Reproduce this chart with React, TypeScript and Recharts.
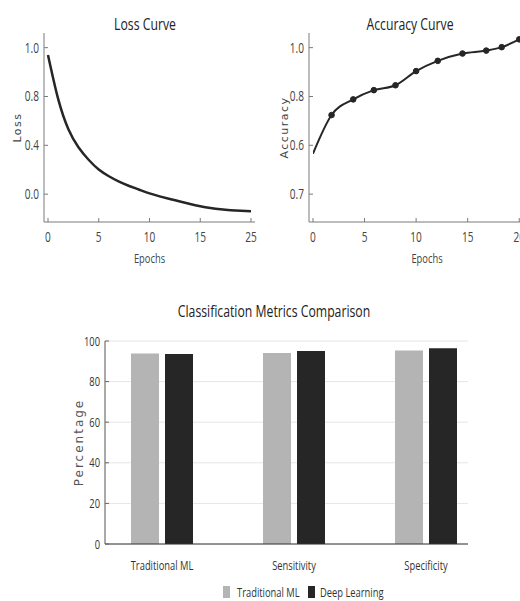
import React from "react";
import {
  LineChart,
  Line,
  BarChart,
  Bar,
  XAxis,
  YAxis,
  CartesianGrid,
  Label,
} from "recharts";

// loss curve (x = tick position; the last tick is labelled "25")
const lossEpochs = [0, 1, 2, 3, 4, 5, 6, 7, 8, 9, 10, 11, 12, 13, 14, 15, 16, 17, 18, 19, 20];
const lossValues = [
  0.95, 0.65, 0.445, 0.32, 0.235, 0.168, 0.122, 0.085, 0.056, 0.03, 0.005, -0.015, -0.033, -0.05,
  -0.067, -0.082, -0.094, -0.103, -0.109, -0.113, -0.116,
];
const lossXTicks = [0, 5, 10, 15, 20];
const lossXLabels = ["0", "5", "10", "15", "25"];
const lossYTicks = [0, 1 / 3, 2 / 3, 1];
const lossYLabels = ["0.0", "0.4", "0.8", "1.0"];

// accuracy curve
const accEpochs = [0, 1.8, 3.9, 5.9, 8, 10, 12.1, 14.5, 16.8, 18.3, 20];
const accValues = [0.783, 0.862, 0.894, 0.913, 0.923, 0.952, 0.973, 0.988, 0.994, 1.001, 1.017];
const accXTicks = [0, 5, 10, 15, 20];
const accXLabels = ["0", "5", "10", "15", "20"];
const accYTicks = [0.7, 0.8, 0.9, 1.0];
const accYLabels = ["0.7", "0.6", "0.8", "1.0"];

// classification metrics
const metricNames = ["Traditional ML", "Sensitivity", "Specificity"];
const traditionalMl = [93.8, 94.1, 95.3];
const deepLearning = [93.6, 95.1, 96.4];
const pctTicks = [0, 20, 40, 60, 80, 100];

const COND = "'Open Sans', 'Noto Sans', sans-serif";
const WIDE = "'DejaVu Sans', Verdana, sans-serif";
const SQUEEZE = 0.72;
const LIGHT = "#b4b4b4";
const DARK = "#262626";
const AXIS = "#7a7a7a";

const lossData = lossEpochs.map((e, i) => ({ epoch: e, loss: lossValues[i] }));
const accData = accEpochs.map((e, i) => ({ epoch: e, acc: accValues[i] }));
const barData = metricNames.map((m, i) => ({ name: m, ml: traditionalMl[i], dl: deepLearning[i] }));

function labelFor(ticks: number[], labels: string[], v: number) {
  const i = ticks.findIndex((t) => Math.abs(t - v) < 1e-6);
  return i >= 0 ? labels[i] : String(v);
}

// narrow text: the reference uses a condensed face, so squeeze horizontally
function NarrowText({ x, y, anchor, size, fill, dy, children }: any) {
  return (
    <text
      transform={`translate(${x},${y}) scale(${SQUEEZE},1)`}
      x={0}
      y={0}
      dy={dy}
      textAnchor={anchor}
      fill={fill}
      fontSize={size}
      fontFamily={COND}
    >
      {children}
    </text>
  );
}

// y tick: label left of axis, small mark pointing into the plot
function InYTick(props: any) {
  const { x, y, payload, ticks, labels, size = 14, color = "#444", mark = AXIS } = props;
  const ax = x + 5;
  const text = ticks ? labelFor(ticks, labels, payload.value) : payload.value;
  return (
    <g>
      <line x1={ax} y1={y} x2={ax + 4} y2={y} stroke={mark} strokeWidth={1} />
      <NarrowText x={x} y={y} dy="0.35em" anchor="end" size={size} fill={color}>
        {text}
      </NarrowText>
    </g>
  );
}

function InXTick(props: any) {
  const { x, y, payload, ticks, labels } = props;
  const ay = y - 10;
  return (
    <g>
      <line x1={x} y1={ay} x2={x} y2={ay - 4} stroke={AXIS} strokeWidth={1} />
      <NarrowText x={x} y={y} dy="0.71em" anchor="middle" size={14} fill="#444">
        {labelFor(ticks, labels, payload.value)}
      </NarrowText>
    </g>
  );
}

function BarXTick(props: any) {
  const { x, y, payload } = props;
  return (
    <NarrowText x={x} y={y} dy="0.71em" anchor="middle" size={13} fill="#333">
      {payload.value}
    </NarrowText>
  );
}

function AxisTitle(props: any) {
  const { viewBox, value, dy } = props;
  if (!viewBox) return null;
  const cx = viewBox.x + viewBox.width / 2;
  const cy = viewBox.y + viewBox.height / 2;
  return (
    <NarrowText x={cx} y={cy} dy={dy} anchor="middle" size={13} fill="#444">
      {value}
    </NarrowText>
  );
}

function AccDot(props: any) {
  const { cx, cy, index } = props;
  if (index === 0 || cx == null) return null;
  return <circle cx={cx} cy={cy} r={2.8} fill={DARK} stroke={DARK} />;
}

const titleStyle: React.CSSProperties = {
  position: "absolute",
  fontFamily: COND,
  color: "#222",
  whiteSpace: "nowrap",
  transform: `translate(-50%, -50%) scaleX(${SQUEEZE})`,
  lineHeight: 1,
};

const yTitle = { fill: "#444", fontSize: 11, fontFamily: WIDE };

export default function App() {
  return (
    <div
      style={{
        position: "absolute",
        left: 0,
        top: 0,
        width: 520,
        height: 601,
        overflow: "hidden",
        background: "#fff",
      }}
    >
      <div style={{ ...titleStyle, left: 145, top: 23, fontSize: 17 }}>Loss Curve</div>
      <div style={{ ...titleStyle, left: 410, top: 23, fontSize: 17 }}>Accuracy Curve</div>
      <div style={{ ...titleStyle, left: 274, top: 310, fontSize: 17 }}>
        Classification Metrics Comparison
      </div>

      {/* Loss */}
      <div style={{ position: "absolute", left: 0, top: 0 }}>
        <LineChart width={260} height={280} data={lossData} margin={{ top: 33, right: 5, bottom: 28, left: 10 }}>
          <XAxis
            dataKey="epoch"
            type="number"
            domain={[0, 20]}
            ticks={lossXTicks}
            padding={{ left: 4, right: 4 }}
            stroke={AXIS}
            tickLine={false}
            tickSize={0}
            tickMargin={10}
            height={30}
            tick={<InXTick ticks={lossXTicks} labels={lossXLabels} />}
          >
            <Label value="Epochs" content={<AxisTitle dy={26} />} />
          </XAxis>
          <YAxis
            type="number"
            domain={[-0.19, 1.1]}
            allowDataOverflow
            ticks={lossYTicks}
            stroke={AXIS}
            tickLine={false}
            tickSize={0}
            tickMargin={5}
            width={34}
            tick={<InYTick ticks={lossYTicks} labels={lossYLabels} />}
          >
            <Label
              value="Loss"
              angle={-90}
              position="insideLeft"
              offset={7}
              {...yTitle}
              style={{ textAnchor: "middle", letterSpacing: 1.5 }}
            />
          </YAxis>
          <Line
            dataKey="loss"
            type="natural"
            stroke={DARK}
            strokeWidth={2.5}
            dot={false}
            isAnimationActive={false}
          />
        </LineChart>
      </div>

      {/* Accuracy */}
      <div style={{ position: "absolute", left: 260, top: 0 }}>
        <LineChart width={290} height={280} data={accData} margin={{ top: 33, right: 5, bottom: 28, left: 15 }}>
          <XAxis
            dataKey="epoch"
            type="number"
            domain={[0, 22.5]}
            allowDataOverflow
            ticks={accXTicks}
            padding={{ left: 4, right: 0 }}
            stroke={AXIS}
            tickLine={false}
            tickSize={0}
            tickMargin={10}
            height={30}
            tick={<InXTick ticks={accXTicks} labels={accXLabels} />}
          >
            <Label value="Epochs" content={<AxisTitle dy={26} />} />
          </XAxis>
          <YAxis
            type="number"
            domain={[0.643, 1.03]}
            allowDataOverflow
            ticks={accYTicks}
            stroke={AXIS}
            tickLine={false}
            tickSize={0}
            tickMargin={5}
            width={34}
            tick={<InYTick ticks={accYTicks} labels={accYLabels} />}
          >
            <Label
              value="Accuracy"
              angle={-90}
              position="insideLeft"
              offset={9}
              {...yTitle}
              style={{ textAnchor: "middle", letterSpacing: 1.5 }}
            />
          </YAxis>
          <Line
            dataKey="acc"
            type="monotone"
            stroke={DARK}
            strokeWidth={2}
            dot={<AccDot />}
            isAnimationActive={false}
          />
        </LineChart>
      </div>

      {/* Metrics */}
      <div style={{ position: "absolute", left: 0, top: 290 }}>
        <BarChart
          width={520}
          height={311}
          data={barData}
          barSize={28}
          barGap={6}
          margin={{ top: 51, right: 52, bottom: 30, left: 55 }}
        >
          <CartesianGrid vertical={false} stroke="#e6e6e6" />
          <XAxis
            dataKey="name"
            padding={{ left: -9, right: -24 }}
            stroke="#333"
            tickLine={false}
            tickMargin={11}
            height={27}
            tick={<BarXTick />}
          />
          <YAxis
            domain={[0, 100]}
            ticks={pctTicks}
            stroke="#555"
            tickLine={false}
            tickSize={0}
            tickMargin={5}
            width={50}
            tick={<InYTick size={13} color="#333" mark="#666" />}
          >
            <Label
              value="Percentage"
              angle={-90}
              position="insideLeft"
              offset={24}
              fill="#555"
              fontSize={12}
              fontFamily={WIDE}
              style={{ textAnchor: "middle", letterSpacing: 2 }}
            />
          </YAxis>
          <Bar dataKey="ml" name="Traditional ML" fill={LIGHT} isAnimationActive={false} />
          <Bar dataKey="dl" name="Deep Learning" fill={DARK} isAnimationActive={false} />
        </BarChart>
      </div>

      {/* legend */}
      <svg width={520} height={20} style={{ position: "absolute", left: 0, top: 582 }}>
        <rect x={223} y={4} width={7} height={12} fill={LIGHT} />
        <NarrowText x={237} y={10} dy="0.35em" anchor="start" size={13} fill="#333">
          Traditional ML
        </NarrowText>
        <rect x={308} y={4} width={7} height={12} fill={DARK} />
        <NarrowText x={320} y={10} dy="0.35em" anchor="start" size={13} fill="#333">
          Deep Learning
        </NarrowText>
      </svg>
    </div>
  );
}
